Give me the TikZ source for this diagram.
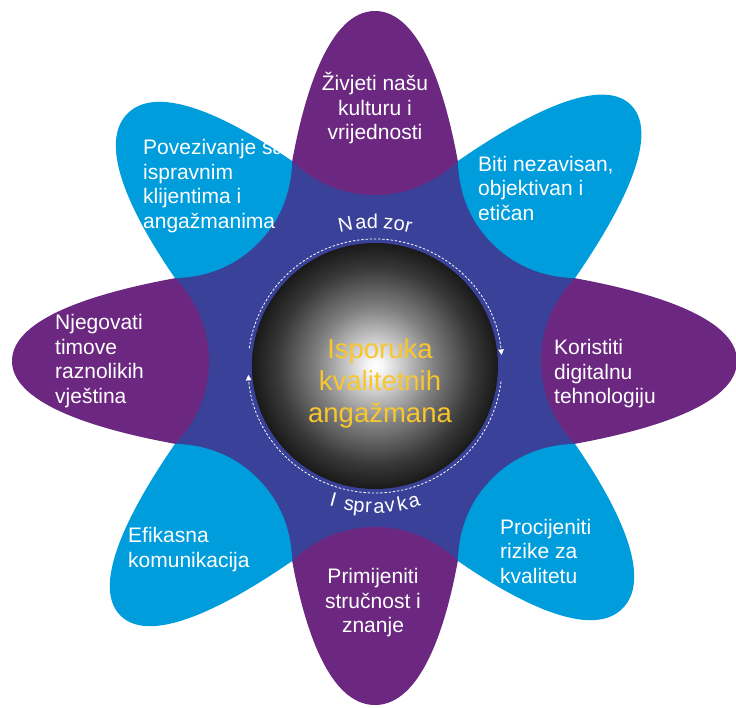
\documentclass[tikz,border=0pt]{standalone}
\usepackage{fontspec}
\setmainfont{Liberation Sans}
\usetikzlibrary{arrows.meta,decorations.text}

\definecolor{petalpurple}{RGB}{108,40,128}
\definecolor{petalcyan}{RGB}{0,157,220}
\definecolor{innerblue}{RGB}{57,66,152}
\definecolor{coregold}{RGB}{248,198,45}

\pgfdeclareradialshading{coreball}{\pgfpoint{0bp}{0bp}}{%
  color(0bp)=(white); color(1.5bp)=(white!97!black); color(12bp)=(black!50);
  color(20bp)=(black!78); color(25bp)=(black!90); color(50bp)=(black!90)}

% one petal, lying along the x axis, #1 = tip
\newcommand{\petalshape}[1]{(166,0) .. controls (166,-40) and (185,-67) .. (200,-82.8)
  .. controls (270,-70) and (#1,-45) .. (#1,0) .. controls (#1,45) and (270,70) .. (200,82.8)
  .. controls (185,67) and (166,40) .. (166,0) -- cycle}

\begin{document}
\begin{tikzpicture}[x=1pt,y=1pt,
  petaltext/.style={text=white, font=\fontsize{21}{24.5}\selectfont, inner sep=0pt},
  lefttext/.style={petaltext, anchor=west, align=left},
  midtext/.style={petaltext, align=center},
  ringline/.style={white, line width=0.8pt, dash pattern=on 2.4pt off 1.8pt},
  ringtip/.style={-{Triangle[width=5.5pt,length=5.5pt]}},
  arctext/.style={decorate, decoration={text along path, text color=white,
    text align=center, text={|\fontsize{20}{22}\selectfont|#1}}}]
\useasboundingbox (0,0) rectangle (736,-707);

\begin{scope}[shift={(375,-361)}]
\fill[innerblue] (22.5:216.5) -- (67.5:216.5) -- (112.5:216.5) -- (157.5:216.5)
  -- (202.5:216.5) -- (247.5:216.5) -- (292.5:216.5) -- (337.5:216.5) -- cycle;
\fill[petalcyan, rotate=45] \petalshape{362};
\fill[petalcyan, rotate=135] \petalshape{350};
\fill[petalcyan, rotate=225] \petalshape{360};
\fill[petalcyan, rotate=315] \petalshape{350};
\end{scope}

\node[lefttext] (linking) at (143,-186) {Povezivanje sa\\ispravnim\\klijentima i\\angažmanima};
\node[lefttext] (ethics) at (478,-188) {Biti nezavisan,\\objektivan i\\etičan};
\node[lefttext] (risks) at (500,-551) {Procijeniti\\rizike za\\kvalitetu};
\node[lefttext] (talk) at (128,-549.5) {Efikasna\\komunikacija};

\begin{scope}[shift={(375,-361)}]
\fill[petalpurple, rotate=0] \petalshape{362};
\fill[petalpurple, rotate=90] \petalshape{350};
\fill[petalpurple, rotate=180] \petalshape{363};
\fill[petalpurple, rotate=270] \petalshape{344};
\end{scope}

\node[midtext] (culture) at (375,-108) {Živjeti našu\\kulturu i\\vrijednosti};
\node[lefttext] (digital) at (554,-374) {Koristiti\\digitalnu\\tehnologiju};
\node[midtext] (skills) at (373,-603) {Primijeniti\\stručnost i\\znanje};
\node[lefttext] (teams) at (55,-361) {Njegovati\\timove\\raznolikih\\vještina};

% the sphere and the ring round it
\node[circle, shade, shading=coreball, minimum size=246pt, inner sep=0pt] (core) at (375,-366) {};
\draw[ringline, ringtip] ([shift={(172:127)}]core.center) arc[start angle=172, end angle=5, radius=127];
\draw[ringline, ringtip] ([shift={(-7:127)}]core.center) arc[start angle=-7, end angle=-176, radius=127];
\path[arctext={{N\kern2pt}a{d\kern5pt}zor}] ([shift={(122:138)}]core.center) arc[start angle=122, end angle=58, radius=138];
\path[arctext={{I\kern9pt}s{p\kern1pt}{r\kern2pt}{a\kern1pt}{v\kern3pt}{k\kern2pt}a}] ([shift={(235:147)}]core.center) arc[start angle=235, end angle=305, radius=147];

\node[text=coregold, font=\fontsize{27.5}{32}\selectfont, align=center, inner sep=0pt] (title) at (380,-383) {Isporuka\\kvalitetnih\\angažmana};
\end{tikzpicture}
\end{document}
